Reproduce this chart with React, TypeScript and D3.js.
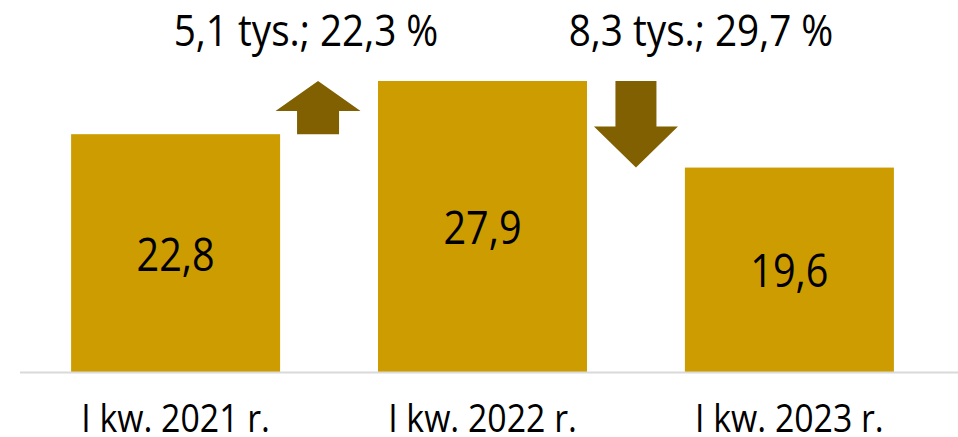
import React from "react";
import * as d3 from "d3";

const categories = ["I kw. 2021 r.", "I kw. 2022 r.", "I kw. 2023 r."];
const values = [22.8, 27.9, 19.6];
const valueLabels = ["22,8", "27,9", "19,6"];
const changeLabels = ["5,1 tys.; 22,3 %", "8,3 tys.; 29,7 %"];

const W = 958;
const H = 437;
const BAR = "#CC9C00";
const ARROW = "#806000";
const FONT = "'Open Sans', 'Noto Sans', sans-serif";

function NarrowText({ x, y, size, sx, children }: { x: number; y: number; size: number; sx: number; children: React.ReactNode }) {
  return (
    <text
      transform={`translate(${x},${y}) scale(${sx},1)`}
      textAnchor="middle"
      fontFamily={FONT}
      fontSize={size}
      fill="#000"
    >
      {children}
    </text>
  );
}

export default function App() {
  const x = d3.scaleBand<string>().domain(categories).range([22, 943]).paddingInner(0.319).paddingOuter(0.16);
  const y = d3.scaleLinear().domain([0, 27.9]).range([372, 81]);
  const bw = x.bandwidth();

  const arrowStyle = [
    { dx: -11, head: 30, wing: 42.5, stem: 21, labelX: 306 },
    { dx: 0, head: 41, wing: 42, stem: 20.5, labelX: 701 },
  ];

  const arrows = changeLabels.map((lab, i) => {
    const a = categories[i];
    const b = categories[i + 1];
    const cx = ((x(a) as number) + bw + (x(b) as number)) / 2 + arrowStyle[i].dx;
    const start = y(values[i]);
    const tip = y(values[i + 1]);
    const s = arrowStyle[i];
    const dir = tip < start ? -1 : 1;
    const neck = tip - dir * s.head;
    const pts = [
      [cx - s.stem, start],
      [cx - s.stem, neck],
      [cx - s.wing, neck],
      [cx, tip],
      [cx + s.wing, neck],
      [cx + s.stem, neck],
      [cx + s.stem, start],
    ];
    return { pts, lab, labelX: s.labelX };
  });

  return (
    <svg width={W} height={H} style={{ position: "absolute", left: 0, top: 0, background: "#fff" }}>
      {categories.map((c, i) => (
        <rect key={c} x={x(c)} y={y(values[i])} width={bw} height={y(0) - y(values[i])} fill={BAR} />
      ))}
      <line x1={20} x2={958} y1={y(0) + 0.5} y2={y(0) + 0.5} stroke="#d9d9d9" strokeWidth={2} />
      {arrows.map((a, i) => (
        <g key={i}>
          <polygon points={a.pts.map((p) => p.join(",")).join(" ")} fill={ARROW} />
          <NarrowText x={a.labelX} y={46} size={43} sx={0.9}>
            {a.lab}
          </NarrowText>
        </g>
      ))}
      {categories.map((c, i) => (
        <NarrowText key={c + "v"} x={(x(c) as number) + bw / 2} y={(y(values[i]) + y(0)) / 2 + 17.5} size={45} sx={0.88}>
          {valueLabels[i]}
        </NarrowText>
      ))}
      {categories.map((c) => (
        <NarrowText key={c + "l"} x={(x(c) as number) + bw / 2} y={432} size={38} sx={0.89}>
          {c}
        </NarrowText>
      ))}
    </svg>
  );
}
